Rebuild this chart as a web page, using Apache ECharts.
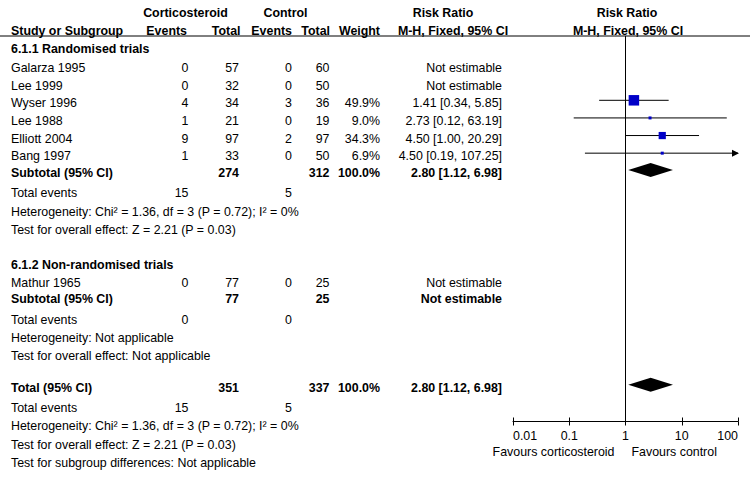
<!DOCTYPE html>
<html><head><meta charset="utf-8">
<script src="https://cdn.jsdelivr.net/npm/echarts/dist/echarts.min.js"></script>
<style>html,body{margin:0;padding:0;background:#fff}#c{width:750px;height:477px}</style>
</head><body><div id="c"></div>
<script>
// ---------------- data ----------------
const studies1   = ['Galarza 1995','Lee 1999','Wyser 1996','Lee 1988','Elliott 2004','Bang 1997'];
const cortEvents1 = [0, 0, 4, 1, 9, 1];
const cortTotal1  = [57, 32, 34, 21, 97, 33];
const ctrlEvents1 = [0, 0, 3, 0, 2, 0];
const ctrlTotal1  = [60, 50, 36, 19, 97, 50];
const weights1    = [null, null, 49.9, 9.0, 34.3, 6.9];
const rr1         = [null, null, 1.41, 2.73, 4.50, 4.50];
const ciLow1      = [null, null, 0.34, 0.12, 1.00, 0.19];
const ciHigh1     = [null, null, 5.85, 63.19, 20.29, 107.25];

const studies2    = ['Mathur 1965'];
const cortEvents2 = [0];
const cortTotal2  = [77];
const ctrlEvents2 = [0];
const ctrlTotal2  = [25];

// [cortTotal, ctrlTotal, weight, rr, lo, hi]
const subtotal1 = [274, 312, 100.0, 2.80, 1.12, 6.98];
const subtotal2 = [77, 25, null, null, null, null];
const overall   = [351, 337, 100.0, 2.80, 1.12, 6.98];
// total events [corticosteroid, control]
const events1 = [15, 5];
const events2 = [0, 0];
const eventsT = [15, 5];

const tickLabels = ['0.01', '0.1', '1', '10', '100'];
const favLeft = 'Favours corticosteroid';
const favRight = 'Favours control';

// ---------------- layout ----------------
const FONT = "'Liberation Sans', Arial, sans-serif";
const FS = 12.4;
const GRID = {left: 513, right: 12, top: 36, bottom: 55.5};
const TEXT_DY = 3;
const ROW = {
  hdr1: -1.15, hdr2: -0.13, sec1: 0.9,
  studies1: [2, 3, 4, 5, 6, 7],
  sub1: 7.95, ev1: 9.1, het1: 10.15, test1: 11.2,
  sec2: 13.2, studies2: [14.2], sub2: 15.12, ev2: 16.32, het2: 17.31, test2: 18.33,
  total: 20.15, evT: 21.32, hetT: 22.34, testT: 23.39, subgrp: 24.44
};
const COL = {name: 11, ev1: 188.5, tot1: 239, ev2: 292, tot2: 329.5, wt: 380, rr: 502};

const fmtRR = (r, l, h) => r == null ? 'Not estimable' :
  r.toFixed(2) + ' [' + l.toFixed(2) + ', ' + h.toFixed(2) + ']';
const fmtW = w => w == null ? '' : w.toFixed(1) + '%';

// study marks data: [rr, row, lo, hi, weight, size]
const markData = [];
rr1.forEach((r, i) => {
  if (r == null) return;
  const size = Math.max(3, 10.5 * weights1[i] / 49.9);
  markData.push([r, ROW.studies1[i], ciLow1[i], ciHigh1[i], weights1[i], size]);
});
const diamondData = [
  [subtotal1[3], ROW.sub1, subtotal1[4], subtotal1[5]],
  [overall[3], ROW.total, overall[4], overall[5]]
];

const chart = echarts.init(document.getElementById('c'), null, {renderer: 'svg'});

const xBase = {
  type: 'log', logBase: 10, min: 0.01, max: 100, position: 'bottom',
  splitLine: {show: false}, minorTick: {show: false}, minorSplitLine: {show: false}
};

chart.setOption({
  animation: false,
  backgroundColor: '#fff',
  grid: GRID,
  xAxis: [
    Object.assign({}, xBase, {
      axisLine: {show: true, lineStyle: {color: '#000', width: 1}},
      axisTick: {show: true, length: 4, lineStyle: {color: '#000', width: 1}},
      axisLabel: {
        show: true, color: '#000', fontSize: FS, fontFamily: FONT, margin: 8,
        alignMinLabel: 'left', alignMaxLabel: 'right',
        formatter: v => tickLabels[Math.round(Math.log10(v)) + 2]
      }
    }),
    Object.assign({}, xBase, {
      axisLine: {show: false},
      axisTick: {show: true, inside: true, length: 4, lineStyle: {color: '#000', width: 1}},
      axisLabel: {show: false}
    })
  ],
  yAxis: {type: 'value', inverse: true, min: 0.35, max: 22.23, show: false},
  series: [
    {
      type: 'custom', xAxisIndex: 0, yAxisIndex: 0, silent: true,
      encode: {x: [0, 2, 3], y: 1},
      data: markData,
      renderItem: function (params, api) {
        const row = api.value(1);
        const p = api.coord([api.value(0), row]);
        const pl = api.coord([api.value(2), row]);
        const ph = api.coord([api.value(3), row]);
        const cs = params.coordSys;
        const xmin = cs.x, xmax = cs.x + cs.width;
        const x1 = Math.max(pl[0], xmin), x2 = Math.min(ph[0], xmax);
        const y = p[1];
        const children = [{
          type: 'line', shape: {x1: x1, y1: y, x2: x2, y2: y},
          style: {stroke: '#000', lineWidth: 1}
        }];
        if (ph[0] > xmax) {
          children.push({type: 'polygon',
            shape: {points: [[xmax + 1, y], [xmax - 6, y - 3.5], [xmax - 6, y + 3.5]]},
            style: {fill: '#000'}});
        }
        const s = api.value(5);
        children.push({type: 'rect', shape: {x: p[0] - s / 2, y: y - s / 2, width: s, height: s},
          style: {fill: '#0000c8'}});
        return {type: 'group', children: children};
      }
    },
    {
      type: 'custom', xAxisIndex: 0, yAxisIndex: 0, silent: true,
      encode: {x: [0, 2, 3], y: 1},
      data: diamondData,
      renderItem: function (params, api) {
        const row = api.value(1);
        const p = api.coord([api.value(0), row]);
        const pl = api.coord([api.value(2), row]);
        const ph = api.coord([api.value(3), row]);
        const h = 7;
        return {type: 'polygon',
          shape: {points: [[pl[0], p[1]], [p[0], p[1] - h], [ph[0], p[1]], [p[0], p[1] + h]]},
          style: {fill: '#000'}};
      },
      markLine: {
        silent: true, symbol: ['none', 'none'], label: {show: false},
        lineStyle: {color: '#000', width: 1, type: 'solid'},
        data: [{xAxis: 1}]
      }
    }
  ]
});

// ---------------- table text ----------------
const cells = [];
function cell(row, x, text, align, bold) {
  if (text === '' || text == null) return;
  cells.push({row: row, x: x, text: String(text), align: align || 'right', bold: !!bold});
}
// headers
cell(ROW.hdr1, 185.5, 'Corticosteroid', 'center', true);
cell(ROW.hdr1, 285.5, 'Control', 'center', true);
cell(ROW.hdr1, 443, 'Risk Ratio', 'center', true);
cell(ROW.hdr1, 627, 'Risk Ratio', 'center', true);
cell(ROW.hdr2, COL.name, 'Study or Subgroup', 'left', true);
cell(ROW.hdr2, 187, 'Events', 'right', true);
cell(ROW.hdr2, 240.5, 'Total', 'right', true);
cell(ROW.hdr2, 292, 'Events', 'right', true);
cell(ROW.hdr2, 330, 'Total', 'right', true);
cell(ROW.hdr2, 380, 'Weight', 'right', true);
cell(ROW.hdr2, 453, 'M-H, Fixed, 95% CI', 'center', true);
cell(ROW.hdr2, 628, 'M-H, Fixed, 95% CI', 'center', true);

// section 1
cell(ROW.sec1, COL.name, '6.1.1 Randomised trials', 'left', true);
studies1.forEach((n, i) => {
  const r = ROW.studies1[i];
  cell(r, COL.name, n, 'left');
  cell(r, COL.ev1, cortEvents1[i]);
  cell(r, COL.tot1, cortTotal1[i]);
  cell(r, COL.ev2, ctrlEvents1[i]);
  cell(r, COL.tot2, ctrlTotal1[i]);
  cell(r, COL.wt, fmtW(weights1[i]));
  cell(r, COL.rr, fmtRR(rr1[i], ciLow1[i], ciHigh1[i]));
});
cell(ROW.sub1, COL.name, 'Subtotal (95% CI)', 'left', true);
cell(ROW.sub1, COL.tot1, subtotal1[0], 'right', true);
cell(ROW.sub1, COL.tot2, subtotal1[1], 'right', true);
cell(ROW.sub1, COL.wt, fmtW(subtotal1[2]), 'right', true);
cell(ROW.sub1, COL.rr, fmtRR(subtotal1[3], subtotal1[4], subtotal1[5]), 'right', true);
cell(ROW.ev1, COL.name, 'Total events', 'left');
cell(ROW.ev1, COL.ev1, events1[0]);
cell(ROW.ev1, COL.ev2, events1[1]);
cell(ROW.het1, COL.name, 'Heterogeneity: Chi² = 1.36, df = 3 (P = 0.72); I² = 0%', 'left');
cell(ROW.test1, COL.name, 'Test for overall effect: Z = 2.21 (P = 0.03)', 'left');

// section 2
cell(ROW.sec2, COL.name, '6.1.2 Non-randomised trials', 'left', true);
studies2.forEach((n, i) => {
  const r = ROW.studies2[i];
  cell(r, COL.name, n, 'left');
  cell(r, COL.ev1, cortEvents2[i]);
  cell(r, COL.tot1, cortTotal2[i]);
  cell(r, COL.ev2, ctrlEvents2[i]);
  cell(r, COL.tot2, ctrlTotal2[i]);
  cell(r, COL.rr, 'Not estimable');
});
cell(ROW.sub2, COL.name, 'Subtotal (95% CI)', 'left', true);
cell(ROW.sub2, COL.tot1, subtotal2[0], 'right', true);
cell(ROW.sub2, COL.tot2, subtotal2[1], 'right', true);
cell(ROW.sub2, COL.rr, fmtRR(subtotal2[3]), 'right', true);
cell(ROW.ev2, COL.name, 'Total events', 'left');
cell(ROW.ev2, COL.ev1, events2[0]);
cell(ROW.ev2, COL.ev2, events2[1]);
cell(ROW.het2, COL.name, 'Heterogeneity: Not applicable', 'left');
cell(ROW.test2, COL.name, 'Test for overall effect: Not applicable', 'left');

// overall
cell(ROW.total, COL.name, 'Total (95% CI)', 'left', true);
cell(ROW.total, COL.tot1, overall[0], 'right', true);
cell(ROW.total, COL.tot2, overall[1], 'right', true);
cell(ROW.total, COL.wt, fmtW(overall[2]), 'right', true);
cell(ROW.total, COL.rr, fmtRR(overall[3], overall[4], overall[5]), 'right', true);
cell(ROW.evT, COL.name, 'Total events', 'left');
cell(ROW.evT, COL.ev1, eventsT[0]);
cell(ROW.evT, COL.ev2, eventsT[1]);
cell(ROW.hetT, COL.name, 'Heterogeneity: Chi² = 1.36, df = 3 (P = 0.72); I² = 0%', 'left');
cell(ROW.testT, COL.name, 'Test for overall effect: Z = 2.21 (P = 0.03)', 'left');
cell(ROW.subgrp, COL.name, 'Test for subgroup differences: Not applicable', 'left');

const graphics = cells.map(c => ({
  type: 'text', silent: true,
  x: c.x,
  y: chart.convertToPixel({yAxisIndex: 0}, c.row) + TEXT_DY,
  style: {
    text: c.text, fill: '#000',
    font: (c.bold ? 'bold ' : '') + FS + 'px ' + FONT,
    align: c.align, verticalAlign: 'middle'
  }
}));
// header rule
const topY = chart.convertToPixel({yAxisIndex: 0}, 0.35);
graphics.push({type: 'line', silent: true,
  shape: {x1: 0, y1: topY, x2: 750, y2: topY},
  style: {stroke: '#000', lineWidth: 1}});
// favours labels
const x1px = chart.convertToPixel({xAxisIndex: 0}, 1);
const axisY = chart.convertToPixel({yAxisIndex: 0}, 22.23);
graphics.push({type: 'text', silent: true, x: x1px - 11, y: axisY + 30,
  style: {text: favLeft, fill: '#000', font: FS + 'px ' + FONT, align: 'right', verticalAlign: 'middle'}});
graphics.push({type: 'text', silent: true, x: x1px + 6, y: axisY + 30,
  style: {text: favRight, fill: '#000', font: FS + 'px ' + FONT, align: 'left', verticalAlign: 'middle'}});

chart.setOption({graphic: graphics});
</script>
</body></html>
